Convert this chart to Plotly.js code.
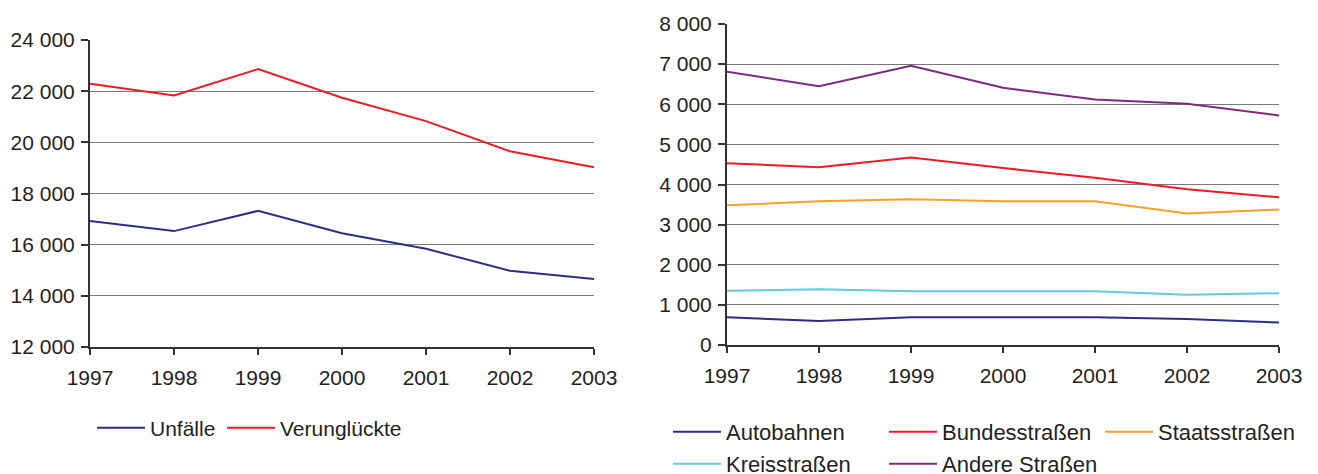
<!DOCTYPE html>
<html><head><meta charset="utf-8">
<script src="https://cdn.plot.ly/plotly-3.0.1.min.js"></script>
<style>html,body{margin:0;padding:0;background:#fff}#chart{width:1318px;height:474px}</style>
</head><body><div id="chart"></div>
<script>
const years = [1997, 1998, 1999, 2000, 2001, 2002, 2003];
const unfaelle = [16930, 16530, 17320, 16450, 15840, 14980, 14660];
const verunglueckte = [22290, 21830, 22860, 21740, 20830, 19650, 19030];
const autobahnen = [690, 600, 690, 690, 690, 650, 560];
const bundesstrassen = [4530, 4430, 4670, 4410, 4170, 3880, 3680];
const staatsstrassen = [3480, 3580, 3630, 3580, 3580, 3280, 3380];
const kreisstrassen = [1350, 1390, 1340, 1340, 1340, 1250, 1290];
const andereStrassen = [6810, 6450, 6960, 6410, 6120, 6010, 5720];

const FAM = 'Liberation Sans, Arial, sans-serif';
const font21 = {family: FAM, size: 21, color: '#231f20'};
const font22 = {family: FAM, size: 22, color: '#231f20'};
function tr(name, y, color, xa, ya, lg) {
  return {x: years, y: y, name: name, type: 'scatter', mode: 'lines',
    line: {color: color, width: 2}, xaxis: xa, yaxis: ya, legend: lg, hoverinfo: 'skip'};
}
const data = [
  tr('Unfälle', unfaelle, '#2d2e83', 'x', 'y', 'legend'),
  tr('Verunglückte', verunglueckte, '#ed1c24', 'x', 'y', 'legend4'),
  tr('Autobahnen', autobahnen, '#2d2e83', 'x2', 'y2', 'legend2'),
  tr('Bundesstraßen', bundesstrassen, '#ed1c24', 'x2', 'y2', 'legend2'),
  tr('Staatsstraßen', staatsstrassen, '#f7a128', 'x2', 'y2', 'legend2'),
  tr('Kreisstraßen', kreisstrassen, '#66c9dc', 'x2', 'y2', 'legend3'),
  tr('Andere Straßen', andereStrassen, '#7d2a7f', 'x2', 'y2', 'legend3')
];
const W = 1318, H = 474;
function xaxis(l, r, anchor) {
  return {domain: [l / W, r / W], range: [1997, 2003], tickvals: years, ticktext: years.map(String), anchor: anchor,
    showgrid: false, zeroline: false, showline: true, linecolor: '#333', linewidth: 2,
    ticks: 'outside', ticklen: 6, tickwidth: 2, tickcolor: '#333', tickfont: font21, ticklabelstandoff: 5, fixedrange: true};
}
function yaxis(t, b, range, dtick, anchor) {
  return {domain: [1 - b / H, 1 - t / H], range: range, dtick: dtick, tickformat: ',d', anchor: anchor,
    showgrid: true, gridcolor: '#7a7a7a', gridwidth: 1, zeroline: false, showline: true, linecolor: '#333', linewidth: 2,
    ticks: 'outside', ticklen: 7, tickwidth: 2, tickcolor: '#333', tickfont: font21, ticklabelstandoff: 2, fixedrange: true};
}
function legend(x, y, f, ew) {
  return {orientation: 'h', x: x / W, y: 1 - y / H, xanchor: 'left', yanchor: 'middle',
    font: f, itemwidth: 48, entrywidth: ew, bgcolor: 'rgba(0,0,0,0)', borderwidth: 0, itemclick: false, itemdoubleclick: false};
}
const layout = {
  width: W, height: H, margin: {l: 0, r: 0, t: 0, b: 0, autoexpand: false}, separators: '. ',
  paper_bgcolor: '#fff', plot_bgcolor: '#fff', font: font21, hovermode: false, showlegend: true,
  xaxis: xaxis(90, 594, 'y'),
  yaxis: yaxis(40, 347, [12000, 24000], 2000, 'x'),
  xaxis2: xaxis(727, 1279, 'y2'),
  yaxis2: yaxis(24, 345, [0, 8000], 1000, 'x2'),
  legend: legend(92, 428, font21, 0),
  legend4: legend(222, 428, font21, 0),
  legend2: legend(668, 432, font22, 153),
  legend3: legend(668, 464, font22, 153)
};
Plotly.newPlot('chart', data, layout, {displayModeBar: false, staticPlot: true});
</script></body></html>
